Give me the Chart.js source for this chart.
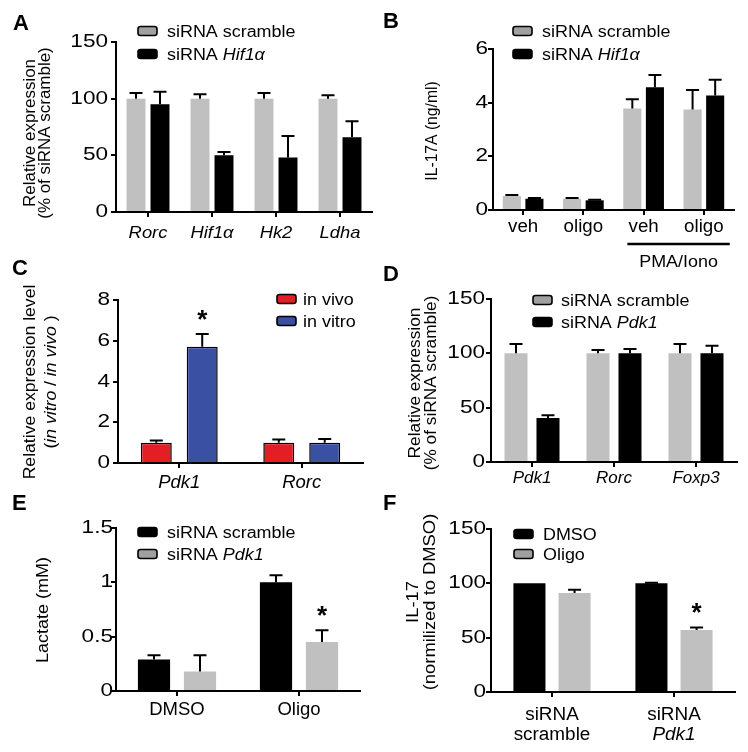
<!DOCTYPE html>
<html><head><meta charset="utf-8">
<script src="https://cdn.jsdelivr.net/npm/chart.js@4.4.0/dist/chart.umd.min.js"></script>
<style>
html,body{margin:0;padding:0;background:#fff;}
#wrap{position:relative;width:748px;height:752px;background:#fff;}
#wrap canvas{position:absolute;left:0;top:0;}
</style>
</head><body>
<div id="wrap"></div>
<script>
// ---------------- DATA ----------------
// Panel A
const aCategories = ['Rorc', 'Hif1α', 'Hk2', 'Ldha'];
const aScramble = [100, 100, 100, 100];
const aScrambleErr = [5, 4, 5, 3];
const aHif1a = [95, 50, 48, 66];
const aHif1aErr = [11, 3, 19, 14];
const aTicks = [0, 50, 100, 150];
// Panel B
const bCategories = ['veh', 'oligo', 'veh', 'oligo'];
const bScramble = [0.52, 0.42, 3.78, 3.75];
const bScrambleErr = [0.04, 0.03, 0.35, 0.72];
const bHif1a = [0.42, 0.36, 4.57, 4.27];
const bHif1aErr = [0.03, 0.02, 0.46, 0.58];
const bTicks = [0, 2, 4, 6];
// Panel C
const cCategories = ['Pdk1', 'Rorc'];
const cInVivo = [1.0, 1.0];
const cInVivoErr = [0.1, 0.15];
const cInVitro = [5.7, 1.0];
const cInVitroErr = [0.63, 0.18];
const cInVitroSig = ['*', ''];
const cTicks = [0, 2, 4, 6, 8];
// Panel D
const dCategories = ['Pdk1', 'Rorc', 'Foxp3'];
const dScramble = [100, 100, 100];
const dScrambleErr = [8.5, 3, 8.5];
const dPdk1 = [40.5, 100, 100];
const dPdk1Err = [2.5, 4, 7];
const dTicks = [0, 50, 100, 150];
// Panel E
const eCategories = ['DMSO', 'Oligo'];
const eScramble = [0.29, 1.0];
const eScrambleErr = [0.04, 0.065];
const ePdk1 = [0.18, 0.45];
const ePdk1Err = [0.15, 0.11];
const ePdk1Sig = ['', '*'];
const eTicks = [0, 0.5, 1, 1.5];
// Panel F
const fCategories = [['siRNA', 'scramble'], ['siRNA', 'Pdk1']];
const fDMSO = [100, 100];
const fDMSOErr = [0, 0.6];
const fOligo = [91, 57];
const fOligoErr = [3, 2.4];
const fOligoSig = ['', '*'];
const fTicks = [0, 50, 100, 150];

// ---------------- STYLE ----------------
const FONT = '"Liberation Sans", Arial, Helvetica, sans-serif';
const LEG = {size: 16, sx: 1.12};
const TICK = {size: 18.5, sx: 1.22};
const XLAB = {size: 17.5, sx: 1.06};
const GRAY = '#c0c0c0', GRAY_LEG = '#a0a0a0', BLACK = '#000000', RED = '#e31e25', BLUE = '#3a50a3';
const ITALIC_WORDS = ['Hif1α', 'Pdk1'];

function fontStr(it, size, bold) { return (it ? 'italic ' : '') + (bold ? 'bold ' : '') + size + 'px ' + FONT; }
function splitItalic(text, all) {
  if (all) return [[text, true]];
  for (const w of ITALIC_WORDS) {
    const k = text.indexOf(w);
    if (k >= 0) return [[text.slice(0, k), false], [w, true], [text.slice(k + w.length), false]].filter(s => s[0]);
  }
  return [[text, false]];
}
function drawSegs(ctx, segs, x, y, o) {
  o = Object.assign({size: 16, sx: 1, align: 'left', rot: false, base: 'alphabetic', bold: false}, o || {});
  ctx.save();
  ctx.translate(x, y);
  if (o.rot) ctx.rotate(-Math.PI / 2);
  ctx.scale(o.sx, 1);
  ctx.textBaseline = o.base; ctx.textAlign = 'left'; ctx.fillStyle = '#000';
  const ws = segs.map(s => { ctx.font = fontStr(s[1], o.size, o.bold); return ctx.measureText(s[0]).width; });
  const tot = ws.reduce((a, b) => a + b, 0);
  let cx = o.align === 'center' ? -tot / 2 : (o.align === 'right' ? -tot : 0);
  segs.forEach((s, i) => { ctx.font = fontStr(s[1], o.size, o.bold); ctx.fillText(s[0], cx, 0); cx += ws[i]; });
  ctx.restore();
}
function roundRect(ctx, x, y, w, h, r) {
  ctx.beginPath();
  ctx.moveTo(x + r, y); ctx.lineTo(x + w - r, y); ctx.quadraticCurveTo(x + w, y, x + w, y + r);
  ctx.lineTo(x + w, y + h - r); ctx.quadraticCurveTo(x + w, y + h, x + w - r, y + h);
  ctx.lineTo(x + r, y + h); ctx.quadraticCurveTo(x, y + h, x, y + h - r);
  ctx.lineTo(x, y + r); ctx.quadraticCurveTo(x, y, x + r, y); ctx.closePath();
}

const decorPlugin = {
  id: 'decor',
  afterDatasetsDraw(chart, args, o) {
    const ctx = chart.ctx, ys = chart.scales.y;
    ctx.save();
    ctx.strokeStyle = '#000'; ctx.lineWidth = 2;
    chart.data.datasets.forEach((ds, di) => {
      const meta = chart.getDatasetMeta(di);
      meta.data.forEach((el, i) => {
        const err = ds.err ? ds.err[i] : 0;
        const yt = ys.getPixelForValue(ds.data[i] + (err || 0));
        if (err) {
          ctx.beginPath();
          ctx.moveTo(el.x, el.y); ctx.lineTo(el.x, yt);
          ctx.moveTo(el.x - o.cap / 2, yt); ctx.lineTo(el.x + o.cap / 2, yt);
          ctx.stroke();
        }
        if (ds.sig && ds.sig[i]) {
          ctx.save();
          ctx.font = 'bold 26px ' + FONT; ctx.textAlign = 'center'; ctx.textBaseline = 'alphabetic'; ctx.fillStyle = '#000';
          ctx.fillText(ds.sig[i], el.x, yt - 21 + 15);
          ctx.restore();
        }
      });
    });
    ctx.restore();
  },
  afterDraw(chart, args, o) {
    const ctx = chart.ctx, xs = chart.scales.x, ys = chart.scales.y;
    // panel letter
    drawSegs(ctx, [[o.letter, false]], o.letterPos[0], o.letterPos[1], {size: 22, sx: 1, bold: true});
    // y tick labels
    o.ticks.forEach(v => {
      drawSegs(ctx, [[String(v), false]], chart.chartArea.left - o.yGap, ys.getPixelForValue(v),
        {align: 'right', base: 'middle', size: TICK.size, sx: TICK.sx});
    });
    // x tick labels
    const xf = o.xFont || XLAB;
    chart.data.labels.forEach((lab, i) => {
      const x = xs.getPixelForValue(i);
      const lines = Array.isArray(lab) ? lab : [lab];
      lines.forEach((ln, k) => {
        drawSegs(ctx, splitItalic(ln, o.xItalic), x, o.xBase + k * o.xLineH, {align: 'center', size: xf.size, sx: xf.sx});
      });
    });
    // y title
    const tf = o.yTitleFont;
    o.yTitle.forEach(line => {
      const segs = line.segs || [[line.t, false]];
      drawSegs(ctx, segs, line.x, o.yTitleY, {align: 'center', rot: true, base: 'middle', size: tf.size, sx: tf.sx});
    });
    // legend
    const lg = o.legend;
    chart.data.datasets.forEach((ds, di) => {
      const cy = lg.rows[di];
      ctx.save();
      roundRect(ctx, lg.x, cy - 4.5, 19, 9, 2.5);
      ctx.fillStyle = ds.legendColor; ctx.fill();
      ctx.lineWidth = 1.6; ctx.strokeStyle = '#000'; ctx.stroke();
      ctx.restore();
      drawSegs(ctx, splitItalic(ds.label, false), lg.textX, cy + 5.5, {size: LEG.size, sx: LEG.sx});
    });
    // group bracket (panel B)
    if (o.bracket) {
      const bk = o.bracket;
      const cw = xs.getPixelForValue(1) - xs.getPixelForValue(0);
      const x0 = xs.getPixelForValue(bk.from) + bk.fl * cw, x1 = xs.getPixelForValue(bk.to) + bk.fr * cw;
      ctx.save(); ctx.strokeStyle = '#000'; ctx.lineWidth = 2.5;
      ctx.beginPath(); ctx.moveTo(x0, bk.y); ctx.lineTo(x1, bk.y); ctx.stroke(); ctx.restore();
      drawSegs(ctx, [[bk.text, false]], (x0 + x1) / 2, bk.ty, {align: 'center', size: LEG.size, sx: LEG.sx});
    }
  }
};

function panel(cfg) {
  const canvas = document.createElement('canvas');
  canvas.width = 748; canvas.height = 752;
  document.getElementById('wrap').appendChild(canvas);
  const YW = 40, XH = 30;
  const a = cfg.area;
  const ticks = cfg.ticks;
  new Chart(canvas.getContext('2d'), {
    type: 'bar',
    data: {
      labels: cfg.labels,
      datasets: cfg.datasets.map(d => ({
        label: d.label, data: d.data, err: d.err, sig: d.sig,
        backgroundColor: d.color, legendColor: d.legendColor || d.color,
        borderColor: '#000', borderWidth: d.border || 0,
        categoryPercentage: cfg.cp, barPercentage: cfg.bp
      }))
    },
    options: {
      responsive: false, maintainAspectRatio: false, animation: false, devicePixelRatio: 1,
      events: [],
      layout: {padding: {left: a.l - YW, right: 748 - a.r, top: a.t, bottom: 752 - a.b - XH}},
      plugins: {
        legend: {display: false}, tooltip: {enabled: false},
        decor: Object.assign({cap: 13, ticks: ticks}, cfg.decor)
      },
      scales: {
        x: {
          type: 'category', offset: true,
          grid: {display: true, drawOnChartArea: false, offset: false, drawTicks: true, tickLength: 5, color: '#000', lineWidth: 2},
          border: {display: true, color: '#000', width: 2},
          ticks: {display: false},
          afterFit(s) { s.height = XH; }
        },
        y: {
          min: ticks[0], max: ticks[ticks.length - 1],
          ticks: {display: false, stepSize: ticks[1] - ticks[0]},
          grid: {display: true, drawOnChartArea: false, drawTicks: true, tickLength: 5, color: '#000', lineWidth: 2},
          border: {display: true, color: '#000', width: 2},
          afterFit(s) { s.width = YW; }
        }
      }
    },
    plugins: [decorPlugin]
  });
}

// A
panel({
  labels: aCategories, ticks: aTicks, cp: 0.75, bp: 0.79,
  area: {l: 116, r: 372, t: 42, b: 212},
  datasets: [
    {label: 'siRNA scramble', data: aScramble, err: aScrambleErr, color: GRAY, legendColor: GRAY_LEG},
    {label: 'siRNA Hif1α', data: aHif1a, err: aHif1aErr, color: BLACK}
  ],
  decor: {letter: 'A', letterPos: [13, 30], yGap: 8, xItalic: true, xBase: 238, xLineH: 20,
    xFont: {size: 17, sx: 1.08},
    yTitle: [{t: 'Relative expression', x: 31}, {t: '(% of siRNA scramble)', x: 46}], yTitleY: 133,
    yTitleFont: {size: 16, sx: 1.06},
    legend: {x: 138, rows: [31, 54], textX: 167}}
});
// B
panel({
  labels: bCategories, ticks: bTicks, cp: 0.75, bp: 0.8,
  area: {l: 493, r: 734, t: 49, b: 210},
  datasets: [
    {label: 'siRNA scramble', data: bScramble, err: bScrambleErr, color: GRAY, legendColor: GRAY_LEG},
    {label: 'siRNA Hif1α', data: bHif1a, err: bHif1aErr, color: BLACK}
  ],
  decor: {letter: 'B', letterPos: [383, 28], yGap: 5, xItalic: false, xBase: 232, xLineH: 20,
    xFont: {size: 18, sx: 1.04},
    yTitle: [{t: 'IL-17A (ng/ml)', x: 433}], yTitleY: 131,
    yTitleFont: {size: 16, sx: 0.98},
    legend: {x: 513, rows: [31, 54], textX: 542},
    bracket: {from: 2, to: 3, fl: -0.27, fr: 0.43, y: 244, text: 'PMA/Iono', ty: 267}}
});
// C
panel({
  labels: cCategories, ticks: cTicks, cp: 0.75, bp: 0.674,
  area: {l: 118, r: 363, t: 300, b: 463},
  datasets: [
    {label: 'in vivo', data: cInVivo, err: cInVivoErr, color: RED, border: 1.5},
    {label: 'in vitro', data: cInVitro, err: cInVitroErr, sig: cInVitroSig, color: BLUE, border: 1.5}
  ],
  decor: {letter: 'C', letterPos: [12, 275], yGap: 8, xItalic: true, xBase: 488, xLineH: 20,
    xFont: {size: 18.5, sx: 1.0},
    yTitle: [{t: 'Relative expression level', x: 31},
             {segs: [['(', false], ['in vitro', true], [' / ', false], ['in vivo', true], [' )', false]], x: 52}],
    yTitleY: 382,
    yTitleFont: {size: 16, sx: 1.1},
    legend: {x: 277, rows: [299, 321], textX: 303}}
});
// D
panel({
  labels: dCategories, ticks: dTicks, cp: 0.78, bp: 0.72,
  area: {l: 491, r: 737, t: 299, b: 462},
  datasets: [
    {label: 'siRNA scramble', data: dScramble, err: dScrambleErr, color: GRAY, legendColor: GRAY_LEG},
    {label: 'siRNA Pdk1', data: dPdk1, err: dPdk1Err, color: BLACK}
  ],
  decor: {letter: 'D', letterPos: [383, 281], yGap: 6, xItalic: true, xBase: 483, xLineH: 20,
    xFont: {size: 17, sx: 1.0},
    yTitle: [{t: 'Relative expression', x: 416}, {t: '(% of siRNA scramble)', x: 432}], yTitleY: 383,
    yTitleFont: {size: 16, sx: 1.08},
    legend: {x: 533, rows: [300, 322], textX: 561}}
});
// E
panel({
  labels: eCategories, ticks: eTicks, cp: 0.754, bp: 0.7,
  area: {l: 116, r: 360, t: 528, b: 691},
  datasets: [
    {label: 'siRNA scramble', data: eScramble, err: eScrambleErr, color: BLACK},
    {label: 'siRNA Pdk1', data: ePdk1, err: ePdk1Err, sig: ePdk1Sig, color: GRAY, legendColor: GRAY_LEG}
  ],
  decor: {letter: 'E', letterPos: [12, 510], yGap: 3, xItalic: false, xBase: 715, xLineH: 20,
    xFont: {size: 18.5, sx: 1.0},
    yTitle: [{t: 'Lactate (mM)', x: 43}], yTitleY: 610,
    yTitleFont: {size: 17, sx: 1.06},
    legend: {x: 138, rows: [532, 554], textX: 167}}
});
// F
panel({
  labels: fCategories, ticks: fTicks, cp: 0.74, bp: 0.71,
  area: {l: 491, r: 735, t: 529, b: 692},
  datasets: [
    {label: 'DMSO', data: fDMSO, err: fDMSOErr, color: BLACK},
    {label: 'Oligo', data: fOligo, err: fOligoErr, sig: fOligoSig, color: GRAY, legendColor: GRAY_LEG}
  ],
  decor: {letter: 'F', letterPos: [383, 510], yGap: 5, xItalic: false, xBase: 720, xLineH: 20,
    xFont: {size: 18, sx: 1.05},
    yTitle: [{t: 'IL-17', x: 413}, {t: '(normilized to DMSO)', x: 430}], yTitleY: 602,
    yTitleFont: {size: 17, sx: 1.08},
    legend: {x: 514, rows: [534, 554], textX: 543}}
});
</script>
</body></html>
